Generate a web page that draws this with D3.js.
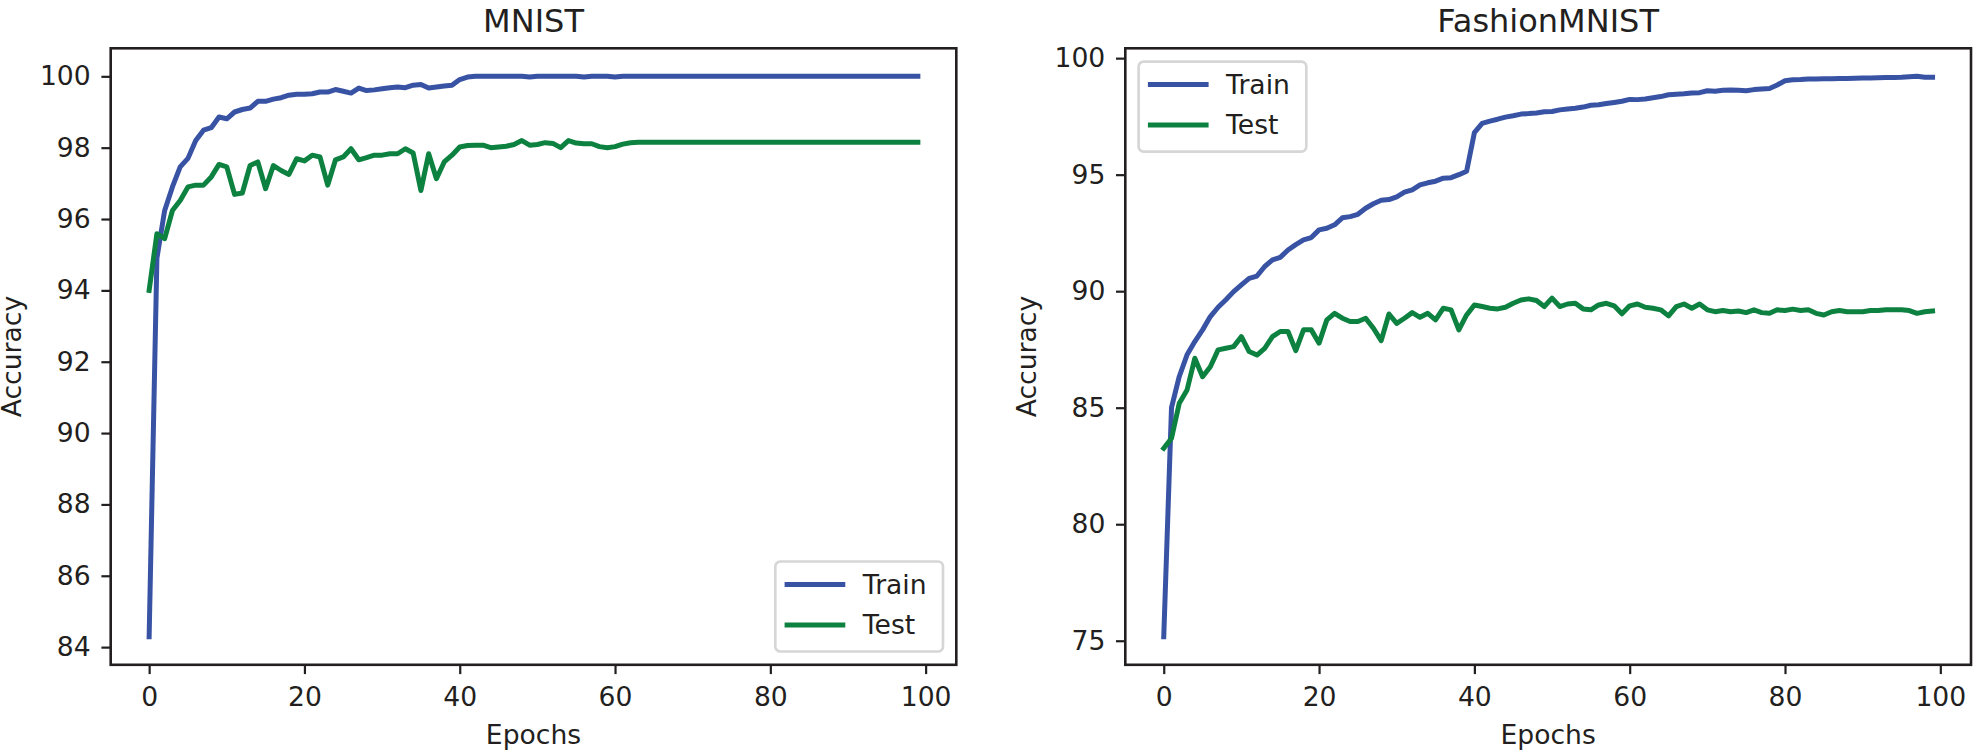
<!DOCTYPE html>
<html>
<head>
<meta charset="utf-8">
<script src="https://cdn.jsdelivr.net/npm/d3@7"></script>
<style>
body { margin: 0; background: #fff; }
svg text { font-family: "DejaVu Sans", sans-serif; fill: #231f20; }
</style>
</head>
<body>
<svg id="canvas" width="1975" height="753"></svg>
<script>
var epochs = d3.range(100);

var mnistTrain = [84.29, 94.9, 96.24, 96.9, 97.46, 97.7, 98.2, 98.49, 98.56, 98.86,
    98.81, 99.0, 99.07, 99.11, 99.3, 99.3, 99.36, 99.4, 99.47, 99.5,
    99.5, 99.51, 99.56, 99.56, 99.63, 99.58, 99.53, 99.67, 99.6, 99.62,
    99.65, 99.68, 99.7, 99.68, 99.75, 99.77, 99.67, 99.7, 99.73, 99.75,
    99.91, 99.98, 100, 100, 100, 100, 100, 100, 100, 99.98,
    100, 100, 100, 100, 100, 100, 99.98, 100, 100, 100,
    99.98, 100, 100, 100, 100, 100, 100, 100, 100, 100,
    100, 100, 100, 100, 100, 100, 100, 100, 100, 100,
    100, 100, 100, 100, 100, 100, 100, 100, 100, 100,
    100, 100, 100, 100, 100, 100, 100, 100, 100, 100];

var mnistTest = [94.0, 95.59, 95.45, 96.24, 96.52, 96.9, 96.95, 96.95, 97.18, 97.53,
    97.46, 96.69, 96.73, 97.5, 97.6, 96.85, 97.5, 97.36, 97.25, 97.69,
    97.63, 97.79, 97.74, 96.95, 97.66, 97.74, 97.97, 97.66, 97.72, 97.79,
    97.79, 97.83, 97.83, 97.97, 97.85, 96.8, 97.83, 97.13, 97.6, 97.79,
    98.02, 98.06, 98.07, 98.07, 98.0, 98.02, 98.04, 98.09, 98.2, 98.07,
    98.09, 98.14, 98.12, 98.0, 98.2, 98.13, 98.11, 98.11, 98.03, 98.0,
    98.03, 98.1, 98.14, 98.15, 98.15, 98.15, 98.15, 98.15, 98.15, 98.15,
    98.15, 98.15, 98.15, 98.15, 98.15, 98.15, 98.15, 98.15, 98.15, 98.15,
    98.15, 98.15, 98.15, 98.15, 98.15, 98.15, 98.15, 98.15, 98.15, 98.15,
    98.15, 98.15, 98.15, 98.15, 98.15, 98.15, 98.15, 98.15, 98.15, 98.15];

var fashionTrain = [75.17, 85.0, 86.34, 87.27, 87.84, 88.34, 88.91, 89.31, 89.63, 89.98,
    90.27, 90.55, 90.65, 91.06, 91.34, 91.45, 91.77, 92.0, 92.2, 92.3,
    92.63, 92.7, 92.85, 93.15, 93.2, 93.3, 93.56, 93.75, 93.9, 93.93,
    94.05, 94.25, 94.35, 94.56, 94.65, 94.72, 94.85, 94.87, 95.0, 95.15,
    96.8, 97.2, 97.3, 97.38, 97.47, 97.53, 97.6, 97.62, 97.65, 97.7,
    97.71, 97.78, 97.82, 97.85, 97.9, 97.98, 98.0, 98.05, 98.1, 98.15,
    98.23, 98.22, 98.25, 98.3, 98.35, 98.43, 98.45, 98.47, 98.5, 98.52,
    98.6, 98.58, 98.62, 98.63, 98.62, 98.6, 98.65, 98.68, 98.7, 98.85,
    99.03, 99.07, 99.08, 99.1, 99.11, 99.12, 99.12, 99.13, 99.13, 99.14,
    99.15, 99.15, 99.16, 99.17, 99.17, 99.18, 99.2, 99.22, 99.18, 99.18];

var fashionTest = [83.26, 83.69, 85.19, 85.76, 87.12, 86.33, 86.76, 87.48, 87.55, 87.62,
    88.05, 87.41, 87.26, 87.55, 88.05, 88.27, 88.27, 87.45, 88.34, 88.34,
    87.77, 88.77, 89.05, 88.84, 88.7, 88.7, 88.84, 88.41, 87.88, 89.02,
    88.62, 88.84, 89.08, 88.88, 89.05, 88.77, 89.27, 89.2, 88.34, 88.98,
    89.41, 89.34, 89.27, 89.24, 89.31, 89.48, 89.62, 89.67, 89.6, 89.34,
    89.7, 89.34, 89.45, 89.48, 89.24, 89.2, 89.41, 89.48, 89.37, 89.03,
    89.37, 89.45, 89.31, 89.27, 89.2, 88.94, 89.34, 89.45, 89.27, 89.45,
    89.2, 89.12, 89.17, 89.12, 89.15, 89.08, 89.2, 89.08, 89.05, 89.2,
    89.17, 89.23, 89.17, 89.2, 89.05, 88.98, 89.12, 89.17, 89.12, 89.12,
    89.12, 89.17, 89.17, 89.2, 89.2, 89.2, 89.17, 89.05, 89.12, 89.15];

var xTicks = [0, 20, 40, 60, 80, 100];
var mnistYTicks = [84, 86, 88, 90, 92, 94, 96, 98, 100];
var fashionYTicks = [75, 80, 85, 90, 95, 100];
var seriesNames = ['Train', 'Test'];
var seriesColors = ['#3953a4', '#0d8140'];

var ink = '#231f20';
var fontSize = 26.6;
var plotTop = 48.3, plotBottom = 664.8;

var svg = d3.select('#canvas');

// pad like matplotlib's 5% autoscale margins
function padded(lo, hi) {
    var m = (hi - lo) * 0.05;
    return [lo - m, hi + m];
}

function drawPanel(cfg) {
    var g = svg.append('g');

    var x = d3.scaleLinear()
        .domain(padded(0, epochs.length - 1))
        .range([cfg.left, cfg.right]);

    var all = cfg.series[0].concat(cfg.series[1]);
    var y = d3.scaleLinear()
        .domain(padded(d3.min(all), d3.max(all)))
        .range([plotBottom, plotTop]);

    var line = d3.line()
        .x(function(d, i) { return x(epochs[i]); })
        .y(function(d) { return y(d); });

    cfg.series.forEach(function(s, k) {
        g.append('path')
            .datum(s)
            .attr('d', line)
            .attr('fill', 'none')
            .attr('stroke', seriesColors[k])
            .attr('stroke-width', 5)
            .attr('stroke-linejoin', 'round')
            .attr('stroke-linecap', 'square');
    });

    var xAxis = g.append('g')
        .attr('transform', 'translate(0,' + plotBottom + ')')
        .call(d3.axisBottom(x).tickValues(xTicks).tickSize(9.3).tickPadding(13));

    var yAxis = g.append('g')
        .attr('transform', 'translate(' + cfg.left + ',0)')
        .call(d3.axisLeft(y).tickValues(cfg.yTicks).tickSize(9.3).tickPadding(10.7));

    [xAxis, yAxis].forEach(function(a) {
        a.select('.domain').remove();
        a.selectAll('line').attr('stroke', ink).attr('stroke-width', 2.2);
        a.selectAll('text')
            .attr('fill', ink)
            .style('font-family', '"DejaVu Sans", sans-serif')
            .style('font-size', fontSize + 'px');
    });

    g.append('rect')
        .attr('x', cfg.left)
        .attr('y', plotTop)
        .attr('width', cfg.right - cfg.left)
        .attr('height', plotBottom - plotTop)
        .attr('fill', 'none')
        .attr('stroke', ink)
        .attr('stroke-width', 2.6);

    g.append('text')
        .attr('x', (cfg.left + cfg.right) / 2)
        .attr('y', 31.5)
        .attr('text-anchor', 'middle')
        .style('font-size', '32px')
        .text(cfg.title);

    g.append('text')
        .attr('x', (cfg.left + cfg.right) / 2)
        .attr('y', 744)
        .attr('text-anchor', 'middle')
        .style('font-size', fontSize + 'px')
        .text('Epochs');

    g.append('text')
        .attr('transform', 'translate(' + (cfg.left - 89.4) + ',' + ((plotTop + plotBottom) / 2) + ') rotate(-90)')
        .attr('text-anchor', 'middle')
        .style('font-size', fontSize + 'px')
        .text('Accuracy');

    // legend
    var lw = 167.7, lh = 90;
    var lx = cfg.legendAt === 'lower right' ? cfg.right - 13.3 - lw : cfg.left + 13.3;
    var ly = cfg.legendAt === 'lower right' ? plotBottom - 13.3 - lh : plotTop + 13.3;

    var leg = g.append('g')
        .attr('transform', 'translate(' + lx + ',' + ly + ')');

    leg.append('rect')
        .attr('width', lw)
        .attr('height', lh)
        .attr('rx', 5)
        .attr('fill', 'rgba(255,255,255,0.8)')
        .attr('stroke', '#d6d6d6')
        .attr('stroke-width', 2.66);

    seriesNames.forEach(function(name, k) {
        var row = 23 + k * 40.4;
        leg.append('line')
            .attr('x1', 9.3)
            .attr('x2', 70)
            .attr('y1', row)
            .attr('y2', row)
            .attr('stroke', seriesColors[k])
            .attr('stroke-width', 5);
        leg.append('text')
            .attr('x', 87.5)
            .attr('y', row + 9.3)
            .style('font-size', fontSize + 'px')
            .text(name);
    });
}

drawPanel({
    title: 'MNIST',
    left: 110.7,
    right: 956.3,
    series: [mnistTrain, mnistTest],
    yTicks: mnistYTicks,
    legendAt: 'lower right'
});

drawPanel({
    title: 'FashionMNIST',
    left: 1125.3,
    right: 1971,
    series: [fashionTrain, fashionTest],
    yTicks: fashionYTicks,
    legendAt: 'upper left'
});
</script>
</body>
</html>
